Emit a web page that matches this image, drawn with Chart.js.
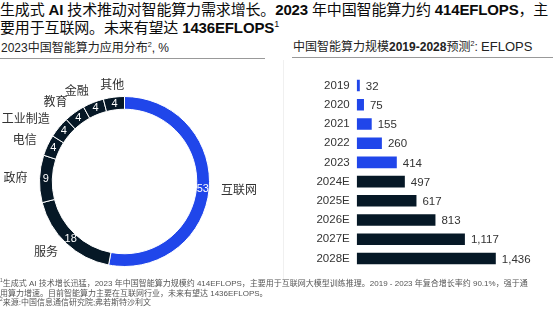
<!DOCTYPE html>
<html>
<head>
<meta charset="utf-8">
<script src="https://cdn.jsdelivr.net/npm/chart.js@4/dist/chart.umd.min.js"></script>
<style>
  body { margin: 0; background: #fff; width: 553px; height: 321px; overflow: hidden; position: relative;
         font-family: "Liberation Sans", Arial, "Noto Sans CJK SC", sans-serif; color: #111; }
  .abs { position: absolute; white-space: nowrap; }
  #title { left: 0; top: 1px; font-size: 15px; line-height: 18px; color: #0b0b0b; letter-spacing: -0.15px; }
  #title b { font-weight: bold; }
  sup { font-size: 60%; line-height: 0; }
  #subL { left: 1px; top: 38px; font-size: 12px; color: #222; }
  #subR { left: 293px; top: 37px; font-size: 12px; color: #222; }
  #subR .u { font-size: 13px; }
  .rule { position: absolute; height: 1px; background: #999; }
  #vline { position: absolute; left: 283px; top: 60px; width: 1px; height: 222px; background: #f0f0f0; }
  #foot { left: 0; top: 279px; font-size: 8px; line-height: 9.5px; color: #555; }
  canvas { position: absolute; }
</style>
</head>
<body>
<div id="title" class="abs">生成式 <b>AI</b> 技术推动对智能算力需求增长。<b>2023</b> 年中国智能算力约 <b>414EFLOPS</b>，主<br>要用于互联网。未来有望达 <b>1436EFLOPS</b><sup>1</sup></div>
<div id="subL" class="abs">2023中国智能算力应用分布<sup>2</sup>, %</div>
<div id="subR" class="abs">中国智能算力规模<b>2019-2028</b>预测<sup>2</sup>: <span class="u">EFLOPS</span></div>
<div class="rule" style="left:0;top:58px;width:265px"></div>
<div class="rule" style="left:292px;top:57px;width:261px"></div>
<div id="vline"></div>
<canvas id="donut" style="left:0;top:60px;width:265px;height:222px"></canvas>
<canvas id="bars" style="left:283px;top:62px;width:270px;height:220px"></canvas>
<div id="foot" class="abs"><sup>1</sup>生成式 AI 技术增长迅猛，2023 年中国智能算力规模约 414EFLOPS，主要用于互联网大模型训练推理。2019 - 2023 年复合增长率约 90.1%，强于通<br>用算力增速。目前智能算力主要在互联网行业，未来有望达 1436EFLOPS。<br><sup>2</sup>来源:中国信息通信研究院;弗若斯特沙利文</div>

<script>
const appLabels = ['互联网', '服务', '政府', '电信', '工业制造', '教育', '金融', '其他'];
const appShares = [53, 18, 9, 4, 4, 4, 4, 4];

const years = ['2019', '2020', '2021', '2022', '2023', '2024E', '2025E', '2026E', '2027E', '2028E'];
const eflops = [32, 75, 155, 260, 414, 497, 617, 813, 1117, 1436];

const blue = '#2046ea';
const navy = '#061826';
const font = '"Liberation Sans", Arial, "Noto Sans CJK SC", sans-serif';

const donutLabels = {
  id: 'donutLabels',
  afterDatasetsDraw(chart) {
    const ctx = chart.ctx;
    const meta = chart.getDatasetMeta(0);
    ctx.save();
    meta.data.forEach(function (arc, i) {
      const p = arc.getProps(['x', 'y', 'startAngle', 'endAngle', 'innerRadius', 'outerRadius']);
      const a = (p.startAngle + p.endAngle) / 2;
      const mid = (p.innerRadius + p.outerRadius) / 2;
      ctx.fillStyle = '#fff';
      ctx.font = '11px ' + font;
      ctx.textAlign = 'center';
      ctx.textBaseline = 'middle';
      ctx.fillText(appShares[i], p.x + mid * Math.cos(a), p.y + mid * Math.sin(a));

      const r = p.outerRadius + 12;
      const c = Math.cos(a);
      ctx.textAlign = c > 0.3 ? 'left' : (c < -0.3 ? 'right' : 'center');
      ctx.fillStyle = '#333';
      ctx.font = '12px ' + font;
      ctx.fillText(appLabels[i], p.x + r * c, p.y + r * Math.sin(a));
    });
    ctx.restore();
  }
};

new Chart(document.getElementById('donut'), {
  type: 'doughnut',
  data: {
    labels: appLabels,
    datasets: [{
      data: appShares,
      backgroundColor: appLabels.map((l, i) => i === 0 ? blue : navy),
      borderColor: '#fff',
      borderWidth: 1
    }]
  },
  options: {
    responsive: false,
    animation: false,
    cutout: '85%',
    layout: { padding: { left: 39, right: 55, top: 36, bottom: 15 } },
    plugins: { legend: { display: false }, tooltip: { enabled: false } }
  },
  plugins: [donutLabels]
});

const barValues = {
  id: 'barValues',
  afterDatasetsDraw(chart) {
    const ctx = chart.ctx;
    ctx.save();
    ctx.fillStyle = '#333';
    ctx.font = '11.5px ' + font;
    ctx.textAlign = 'left';
    ctx.textBaseline = 'middle';
    chart.getDatasetMeta(0).data.forEach(function (bar, i) {
      ctx.fillText(eflops[i].toLocaleString('en-US'), bar.x + 6, bar.y + 1);
    });
    ctx.restore();
  }
};

new Chart(document.getElementById('bars'), {
  type: 'bar',
  data: {
    labels: years,
    datasets: [{
      data: eflops,
      backgroundColor: years.map(y => y.endsWith('E') ? navy : blue),
      categoryPercentage: 1,
      barPercentage: 0.6
    }]
  },
  options: {
    indexAxis: 'y',
    responsive: false,
    animation: false,
    layout: { padding: { left: 0, right: 51, top: 10.5, bottom: 5 } },
    scales: {
      x: { display: false, min: 0, max: 1500 },
      y: {
        grid: { display: false, drawTicks: false },
        border: { display: false },
        ticks: { color: '#333', font: { size: 11.5, family: font }, padding: 7 },
        afterFit(scale) { scale.width = 73.7; }
      }
    },
    plugins: { legend: { display: false }, tooltip: { enabled: false } }
  },
  plugins: [barValues]
});
</script>
</body>
</html>
